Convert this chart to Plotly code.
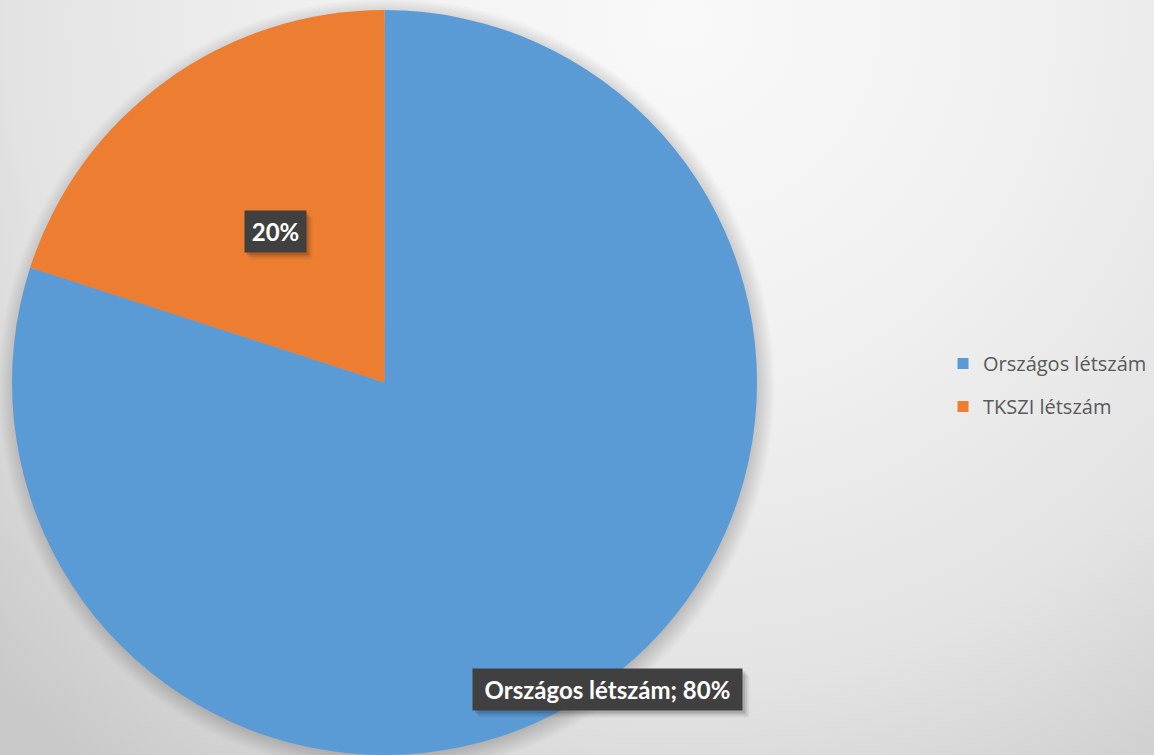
import math
import base64
import plotly.graph_objects as go

# ---- data ----
labels = ["Országos létszám", "TKSZI létszám"]
values = [80, 20]
colors = ["#5B9BD5", "#ED7D31"]
label_texts = ["Országos létszám; 80%", "20%"]
label_radius = [1.02, 0.50]
label_box_w = [269, 61]   # label box sizes (px)
label_box_h = 41

W, H = 1154, 755
cx_px, cy_px, R = 384.5, 382.5, 372.5

# background gradient (Excel-like)
svg = f'''<svg xmlns="http://www.w3.org/2000/svg" width="{W}" height="{H}">
<defs><radialGradient id="g" gradientUnits="userSpaceOnUse" cx="680" cy="20" r="950">
<stop offset="0" stop-color="#f9f9f9"/><stop offset="0.35" stop-color="#f1f1f1"/>
<stop offset="0.7" stop-color="#e3e3e3"/><stop offset="1" stop-color="#c9c9c9"/>
</radialGradient>
<radialGradient id="s" gradientUnits="userSpaceOnUse" cx="{cx_px+2}" cy="{cy_px+4}" r="{R+16}">
<stop offset="0.92" stop-color="#000" stop-opacity="0.30"/><stop offset="1" stop-color="#000" stop-opacity="0"/>
</radialGradient></defs>
<rect width="{W}" height="{H}" fill="url(#g)"/>
<circle cx="{cx_px+2}" cy="{cy_px+4}" r="{R+16}" fill="url(#s)"/>
</svg>'''
src = "data:image/svg+xml;base64," + base64.b64encode(svg.encode()).decode()

fig = go.Figure()
fig.add_trace(go.Pie(
    labels=labels, values=values, sort=False, direction="clockwise", rotation=0,
    marker=dict(colors=colors, line=dict(width=0)),
    textinfo="none", hoverinfo="label+percent", showlegend=False,
    domain=dict(x=[(cx_px - R) / W, (cx_px + R) / W], y=[0, (H - 10) / H]),
))

# legend via dummy traces (to get Excel-like spacing)
for lab, col in zip(labels, colors):
    fig.add_trace(go.Scatter(x=[None], y=[None], mode="markers", name=lab,
                             legendgroup=lab,
                             marker=dict(symbol="square", size=11, color=col)))

# data labels computed from slice angles
total = sum(values)
start = 0.0
annotations = []
shapes = []
for v, txt, rf, bw in zip(values, label_texts, label_radius, label_box_w):
    frac = v / total
    mid = (start + frac / 2) * 2 * math.pi  # clockwise from 12 o'clock
    start += frac
    px = cx_px + rf * R * math.sin(mid)
    py = cy_px - rf * R * math.cos(mid)
    xp, yp = px / W, 1 - py / H
    # soft shadow
    for k, op in [(7, 0.05), (5, 0.08), (3, 0.13)]:
        shapes.append(dict(type="rect", xref="paper", yref="paper",
                           xsizemode="pixel", ysizemode="pixel", xanchor=xp, yanchor=yp,
                           x0=-bw / 2 + k - 1, x1=bw / 2 + k,
                           y0=-label_box_h / 2 - k, y1=label_box_h / 2 - k + 1,
                           fillcolor=f"rgba(0,0,0,{op})", line=dict(width=0), layer="above"))
    annotations.append(dict(x=xp, y=yp, xref="paper", yref="paper", text="<b>" + txt + "</b>",
                            showarrow=False, width=bw, height=label_box_h,
                            xanchor="center", yanchor="middle",
                            font=dict(family="Lato", size=24, color="white"),
                            bgcolor="#404040", borderpad=0))

fig.update_layout(
    width=W, height=H,
    margin=dict(l=0, r=0, t=0, b=0),
    paper_bgcolor="#e9e9e9", plot_bgcolor="rgba(0,0,0,0)",
    images=[dict(source=src, xref="paper", yref="paper", x=0, y=1, sizex=1, sizey=1,
                 xanchor="left", yanchor="top", sizing="stretch", layer="below")],
    xaxis=dict(visible=False), yaxis=dict(visible=False),
    showlegend=True,
    legend=dict(x=943 / W, y=1 - 385 / H, xanchor="left", yanchor="middle",
                font=dict(family="Open Sans", size=20, color="#595959"),
                tracegroupgap=14, bgcolor="rgba(0,0,0,0)"),
    annotations=annotations,
    shapes=shapes,
)
fig.write_html("out.html", config={"displayModeBar": False},
               post_script="document.body.style.margin='0';document.body.style.overflow='hidden';")
